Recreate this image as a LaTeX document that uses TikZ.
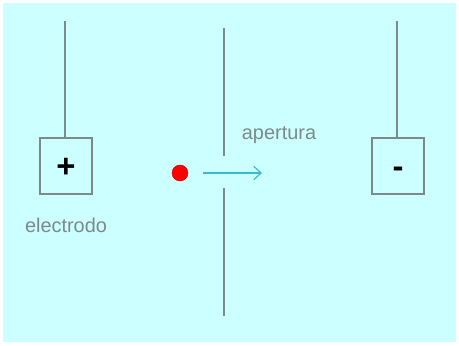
\documentclass[tikz,border=0pt]{standalone}
\usepackage{fontspec}
\setmainfont{Liberation Sans}
\usepackage{xcolor}
\usetikzlibrary{positioning,arrows.meta}

\definecolor{fondo}{RGB}{204,255,255}
\definecolor{linea}{RGB}{125,138,138}
\definecolor{flecha}{RGB}{60,185,205}

\tikzset{
  caja/.style={draw=linea,line width=1.6pt,minimum width=1.56cm,minimum height=1.68cm,inner sep=0pt,
    text height=19pt,text depth=0pt,font=\fontsize{28}{30}\selectfont\bfseries},
  etiqueta/.style={text=linea,font=\fontsize{17}{20}\selectfont},
  cable/.style={draw=linea,line width=1.2pt}
}

\begin{document}
\begin{tikzpicture}[x=1cm,y=1cm]
\useasboundingbox (0,0) rectangle (13.77,-10.35);
\fill[white] (0,0) rectangle (13.77,-10.35);
\fill[fondo] (0.09,-0.09) rectangle (13.68,-10.26);
% electrodos
\node[caja] (pos) at (1.98,-4.98) {+};
\node[caja] (neg) at (11.94,-4.98) {-};
\coordinate (pos top) at (1.95,-0.63);
\coordinate (neg top) at (11.91,-0.63);
\draw[cable] (pos top) -- (pos top |- pos.north);
\draw[cable] (neg top) -- (neg top |- neg.north);
\node[etiqueta] (electrodo) at (1.98,-6.75) {electrodo};
% apertura
\draw[cable] (6.72,-0.84) -- (6.72,-4.68);
\draw[cable] (6.72,-5.64) -- (6.72,-9.48);
\node[etiqueta] (apertura) at (8.37,-4.05) {apertura};
% particula
\node[circle,fill=red,draw=red!85!black,line width=0.4pt,inner sep=0pt,minimum size=0.48cm] (ion) at (5.4,-5.19) {};
\coordinate (fin) at (7.86,-5.19);
\draw[flecha,line width=1pt,-{Straight Barb[length=2.2mm,width=4mm]}] ([xshift=0.45cm]ion.east) -- (fin);
\end{tikzpicture}
\end{document}
